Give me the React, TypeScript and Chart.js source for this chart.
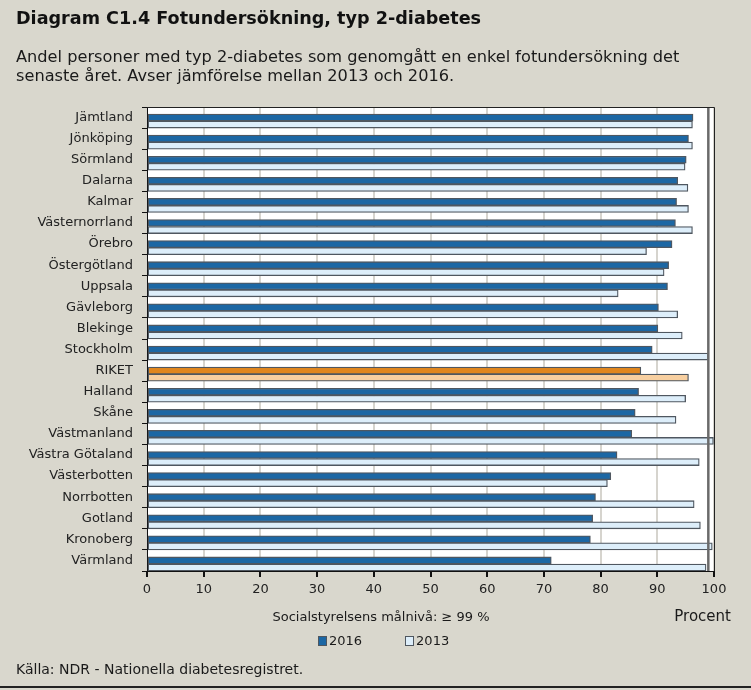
import React, { useEffect, useRef } from "react";
import { Chart, registerables } from "chart.js";

Chart.register(...registerables);

const categories = [
  "Jämtland", "Jönköping", "Sörmland", "Dalarna", "Kalmar", "Västernorrland",
  "Örebro", "Östergötland", "Uppsala", "Gävleborg", "Blekinge", "Stockholm",
  "RIKET", "Halland", "Skåne", "Västmanland", "Västra Götaland", "Västerbotten",
  "Norrbotten", "Gotland", "Kronoberg", "Värmland",
];

const values2016 = [
  96.3, 95.5, 95.1, 93.6, 93.4, 93.2,
  92.6, 92.0, 91.8, 90.2, 90.1, 89.1,
  87.1, 86.7, 86.1, 85.5, 82.9, 81.8,
  79.1, 78.6, 78.2, 71.3,
];

const values2013 = [
  96.2, 96.2, 94.9, 95.4, 95.5, 96.2,
  88.1, 91.2, 83.1, 93.6, 94.4, 99.0,
  95.5, 95.0, 93.3, 99.9, 97.4, 81.2,
  96.5, 97.6, 99.7, 98.6,
];

const xTicks = [0, 10, 20, 30, 40, 50, 60, 70, 80, 90, 100];
const targetLevel = 99;

const seriesNames = ["2016", "2013"];

const FONT = "'DejaVu Sans', sans-serif";
const BG = "#d9d7cd";
const BLUE = "#1c67a4";
const LIGHT = "#ddeefa";
const ORANGE = "#e0861e";
const LIGHT_ORANGE = "#f7cfa0";
const EDGE = "#4f5760";

const plotDecor = {
  id: "plotDecor",
  beforeDraw(chart: any) {
    const { ctx, chartArea } = chart;
    ctx.save();
    ctx.fillStyle = "#ffffff";
    ctx.fillRect(chartArea.left, chartArea.top, chartArea.right - chartArea.left, chartArea.bottom - chartArea.top);
    ctx.restore();
  },
  afterDatasetsDraw(chart: any) {
    const { ctx, chartArea, scales } = chart;
    const x = scales.x.getPixelForValue(targetLevel);
    ctx.save();
    ctx.strokeStyle = "#6a6a6a";
    ctx.lineWidth = 2.5;
    ctx.beginPath();
    ctx.moveTo(x, chartArea.top);
    ctx.lineTo(x, chartArea.bottom);
    ctx.stroke();
    ctx.strokeStyle = "#222";
    ctx.lineWidth = 1;
    ctx.beginPath();
    ctx.moveTo(chartArea.left, chartArea.top + 0.5);
    ctx.lineTo(chartArea.right + 0.5, chartArea.top + 0.5);
    ctx.lineTo(chartArea.right + 0.5, chartArea.bottom);
    ctx.stroke();
    ctx.restore();
  },
};

function ChartCanvas() {
  const ref = useRef<HTMLCanvasElement | null>(null);
  useEffect(() => {
    if (!ref.current) return;
    const isRiket = (i: number) => categories[i] === "RIKET";
    const chart = new Chart(ref.current, {
      type: "bar",
      data: {
        labels: categories,
        datasets: [
          { label: "", data: categories.map(() => null), backgroundColor: "transparent", borderWidth: 0 },
          {
            label: seriesNames[0],
            data: values2016,
            backgroundColor: categories.map((_, i) => (isRiket(i) ? ORANGE : BLUE)),
            borderColor: EDGE,
            borderWidth: 1.3,
            borderSkipped: false,
          },
          {
            label: seriesNames[1],
            data: values2013,
            backgroundColor: categories.map((_, i) => (isRiket(i) ? LIGHT_ORANGE : LIGHT)),
            borderColor: EDGE,
            borderWidth: 1.3,
            borderSkipped: false,
          },
        ],
      },
      options: {
        indexAxis: "y",
        responsive: false,
        animation: false,
        maintainAspectRatio: false,
        datasets: { bar: { categoryPercentage: 1.0, barPercentage: 1.0 } },
        layout: { padding: { left: 0, top: 107, right: 37, bottom: 0 } },
        plugins: { legend: { display: false }, tooltip: { enabled: false } },
        scales: {
          x: {
            type: "linear",
            min: 0,
            max: 100,
            afterBuildTicks: (s: any) => { s.ticks = xTicks.map((v) => ({ value: v })); },
            afterFit: (s: any) => { s.height = 119; },
            grid: { color: "#d6d4ce", lineWidth: 2, tickColor: "#111", tickLength: 6 },
            border: { display: true, color: "#111", width: 1 },
            ticks: { color: "#222", font: { family: FONT, size: 13 }, padding: 5, maxRotation: 0 },
          },
          y: {
            type: "category",
            afterFit: (s: any) => { s.width = 147; },
            grid: { drawOnChartArea: false, offset: true, tickColor: "#111", tickLength: 5 },
            border: { display: true, color: "#111", width: 1 },
            ticks: { color: "#222", font: { family: FONT, size: 13 }, padding: 9 },
          },
        },
      },
      plugins: [plotDecor],
    } as any);
    return () => chart.destroy();
  }, []);
  return <canvas ref={ref} width={751} height={690} style={{ position: "absolute", left: 0, top: 0, width: 751, height: 690 }} />;
}

export default function App() {
  const text: React.CSSProperties = { position: "absolute", fontFamily: FONT, color: "#1a1a1a", whiteSpace: "nowrap" };
  return (
    <div style={{ position: "absolute", left: 0, top: 0, width: 751, height: 690, background: BG, overflow: "hidden" }}>
      <ChartCanvas />
      <div style={{ ...text, left: 16, top: 8, fontSize: 17.6, fontWeight: "bold", color: "#111" }}>
        Diagram C1.4 Fotundersökning, typ 2-diabetes
      </div>
      <div style={{ ...text, left: 16, top: 47, fontSize: 16.2, lineHeight: "19px", whiteSpace: "normal", width: 730 }}>
        Andel personer med typ 2-diabetes som genomgått en enkel fotundersökning det<br />
        senaste året. Avser jämförelse mellan 2013 och 2016.
      </div>
      <div style={{ ...text, left: 381, top: 609, fontSize: 13, transform: "translateX(-50%)" }}>
        Socialstyrelsens målnivå: ≥ 99 %
      </div>
      <div style={{ ...text, right: 20, top: 607, fontSize: 15 }}>Procent</div>
      <div style={{ ...text, left: 318, top: 633, fontSize: 13, display: "flex", alignItems: "center" }}>
        <span style={{ display: "inline-block", width: 7, height: 8, background: BLUE, border: `1px solid ${EDGE}`, marginRight: 2 }} />
        <span>{seriesNames[0]}</span>
        <span style={{ display: "inline-block", width: 7, height: 8, background: LIGHT, border: `1px solid ${EDGE}`, marginLeft: 43, marginRight: 2 }} />
        <span>{seriesNames[1]}</span>
      </div>
      <div style={{ ...text, left: 16, top: 661, fontSize: 14 }}>
        Källa: NDR - Nationella diabetesregistret.
      </div>
      <div style={{ position: "absolute", left: 0, top: 686, width: 751, height: 2, background: "#222" }} />
    </div>
  );
}
